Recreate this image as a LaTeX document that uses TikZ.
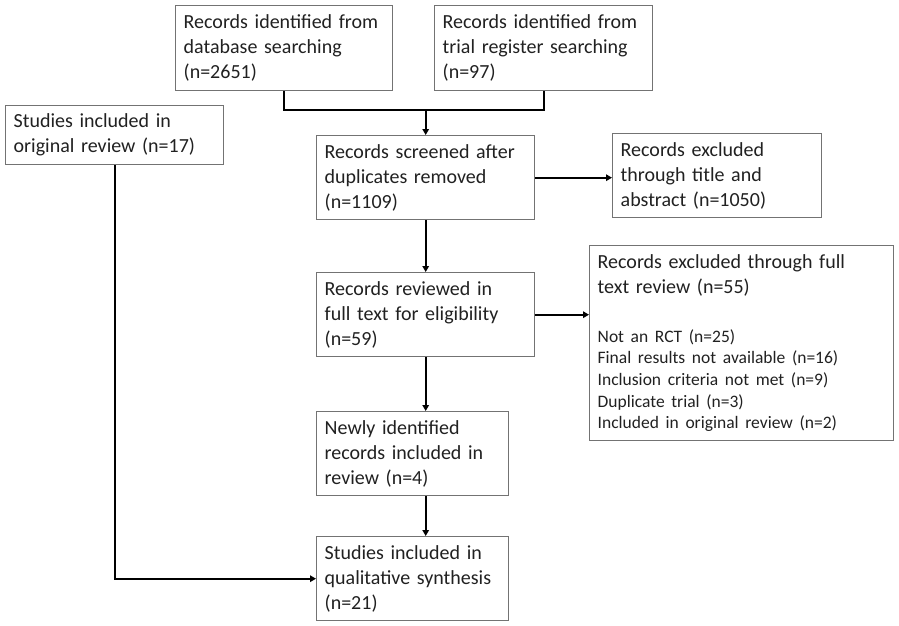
\documentclass[tikz,border=0pt]{standalone}
\usepackage{fontspec}
\setmainfont{Carlito}
\usetikzlibrary{arrows.meta,calc}
\definecolor{boxgray}{gray}{0.45}
\definecolor{textcol}{gray}{0.13}
\begin{document}
\begin{tikzpicture}[x=1pt,y=-1pt,
  box/.style={draw=boxgray, line width=1.4pt, anchor=north west, inner xsep=8pt, inner ysep=2pt,
    align=left, font=\fontsize{20}{25}\selectfont, text=textcol},
  conn/.style={line width=2.4pt, draw=black},
  arr/.style={conn, -{Triangle[length=6pt,width=6.5pt]}}
]
\useasboundingbox[fill=white] (0,0) rectangle (899,626);

\node[box, minimum width=217pt, minimum height=85pt, text width=201pt] (b1) at (175,5)
  {Records identified from\\database searching\\(n=2651)};
\node[box, minimum width=218pt, minimum height=85pt, text width=202pt] (b2) at (434,5)
  {Records identified from\\trial register searching\\(n=97)};
\node[box, minimum width=218pt, minimum height=59pt, text width=202pt] (b3) at (5,105)
  {Studies included in\\original review (n=17)};
\node[box, minimum width=218pt, minimum height=84pt, text width=202pt] (b4) at (316,135)
  {Records screened after\\duplicates removed\\(n=1109)};
\node[box, minimum width=209pt, minimum height=84pt, text width=193pt] (b5) at (612,133)
  {Records excluded\\through title and\\abstract (n=1050)};
\node[box, minimum width=218pt, minimum height=84pt, text width=202pt] (b6) at (316,272)
  {Records reviewed in\\full text for eligibility\\(n=59)};
\node[box, minimum width=304pt, minimum height=195pt, text width=288pt] (b7) at (589,245)
  {{\fontsize{20}{25}\selectfont Records excluded through full\\text review (n=55)\par}
   \vspace{27pt}
   {\fontsize{17.5}{21.7}\selectfont Not an RCT (n=25)\\Final results not available (n=16)\\Inclusion criteria not met (n=9)\\Duplicate trial (n=3)\\Included in original review (n=2)\par}};
\node[box, minimum width=192pt, minimum height=84pt, text width=176pt] (b8) at (316,411)
  {Newly identified\\records included in\\review (n=4)};
\node[box, minimum width=192pt, minimum height=84pt, text width=176pt] (b9) at (316,536)
  {Studies included in\\qualitative synthesis\\(n=21)};

\coordinate (j) at ($(b4.north)+(0,-25)$);
\draw[conn] (b1.south) |- (j) -| (b2.south);
\draw[arr] (j) -- (b4.north);
\draw[arr] (b4.east) -- (b4.east -| b5.west);
\draw[arr] (b4.south) -- (b6.north);
\draw[arr] (b6.east) -- (b6.east -| b7.west);
\draw[arr] (b6.south) -- (b6.south |- b8.north);
\draw[arr] (b6.south |- b8.south) -- (b6.south |- b9.north);
\draw[arr] (b3.south) |- (b9.west);
\end{tikzpicture}
\end{document}
